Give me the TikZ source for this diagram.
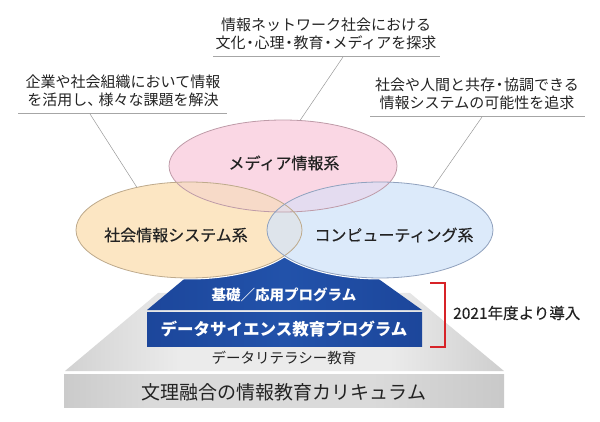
\documentclass[tikz,border=0pt]{standalone}
\usepackage{fontspec}
\setmainfont{Noto Sans CJK JP}
\newfontfamily\jpmed[FakeBold=0.35]{Noto Sans CJK JP}
\definecolor{pinkc}{RGB}{250,215,228}
\definecolor{orangec}{RGB}{252,230,195}
\definecolor{bluec}{RGB}{220,234,250}
\definecolor{poc}{RGB}{247,218,200}
\definecolor{pbc}{RGB}{228,220,240}
\definecolor{obc}{RGB}{222,228,235}
\definecolor{pobc}{RGB}{230,220,228}
\definecolor{pinks}{RGB}{190,155,168}
\definecolor{oranges}{RGB}{190,170,140}
\definecolor{blues}{RGB}{145,162,190}
\definecolor{navyE}{RGB}{12,36,100}
\definecolor{navyQ}{RGB}{27,68,152}
\definecolor{navyM}{RGB}{34,82,170}
\definecolor{txt}{RGB}{35,35,35}
\definecolor{redb}{RGB}{215,35,40}
\definecolor{g185}{RGB}{185,185,185}
\definecolor{g200}{RGB}{200,200,200}
\definecolor{g235}{RGB}{235,235,235}
\definecolor{g195}{RGB}{195,195,195}
\definecolor{g155}{RGB}{155,155,155}
\definecolor{g165}{RGB}{165,165,165}
\definecolor{g218}{RGB}{218,218,218}
\definecolor{g172}{RGB}{172,172,172}
\pgfdeclarehorizontalshading{trapShade}{100bp}{color(0bp)=(g185); color(20bp)=(g200); color(38bp)=(g235); color(62bp)=(g235); color(80bp)=(g195); color(100bp)=(g155)}
\pgfdeclarehorizontalshading{rectShade}{100bp}{color(0bp)=(g165); color(35bp)=(g218); color(60bp)=(g218); color(100bp)=(g172)}
\pgfdeclarehorizontalshading{navyShade}{100bp}{color(0bp)=(navyE); color(20bp)=(navyQ); color(50bp)=(navyM); color(80bp)=(navyQ); color(100bp)=(navyE)}
\newcommand\nkg{\kern-0.2em・\kern-0.2em}
\begin{document}
\begin{tikzpicture}[x=1pt,y=-1pt,
  ann/.style={text=txt, align=center, inner sep=0pt, font=\fontsize{15}{18}\selectfont},
  elab/.style={text=txt, inner sep=0pt, font=\jpmed\fontsize{16}{18}\selectfont},
  uline/.style={draw=gray!70, line width=0.9pt},
  leader/.style={draw=gray!80, line width=0.5pt},
  bluetext/.style={text=white, inner sep=0pt, font=\bfseries\fontsize{#1}{#1}\selectfont},
  graytext/.style={text=txt, inner sep=0pt, font=\fontsize{#1}{#1}\selectfont}]
\useasboundingbox (0,0) rectangle (600,422);

% ---- gray base
\shade[shading=trapShade]
  (65,371) -- (158,293) -- (410,293) -- (504,371) -- cycle;
\shade[shading=rectShade]
  (64,374) rectangle (504,407);

% ---- blue program block
\shade[shading=navyShade]
  (147,310) -- (219,250) -- (338,250) -- (422,310) -- cycle;
\shade[shading=navyShade]
  (147,312.5) rectangle (422,346);

% ---- ellipse halos over the blue block
\draw[white, line width=3pt] (189,230) ellipse [x radius=113pt, y radius=48pt];
\draw[white, line width=3pt] (380,230) ellipse [x radius=113pt, y radius=48pt];

% ---- ellipse fills
\fill[pinkc] (283,166) ellipse [x radius=114pt, y radius=46pt];
\fill[orangec] (189,230) ellipse [x radius=113pt, y radius=48pt];
\fill[bluec] (380,230) ellipse [x radius=113pt, y radius=48pt];
\begin{scope}
  \clip (283,166) ellipse [x radius=114pt, y radius=46pt];
  \fill[poc] (189,230) ellipse [x radius=113pt, y radius=48pt];
  \fill[pbc] (380,230) ellipse [x radius=113pt, y radius=48pt];
\end{scope}
\begin{scope}
  \clip (189,230) ellipse [x radius=113pt, y radius=48pt];
  \fill[obc] (380,230) ellipse [x radius=113pt, y radius=48pt];
  \clip (283,166) ellipse [x radius=114pt, y radius=46pt];
  \fill[pobc] (380,230) ellipse [x radius=113pt, y radius=48pt];
\end{scope}
\draw[pinks, line width=0.8pt] (283,166) ellipse [x radius=114pt, y radius=46pt];
\draw[oranges, line width=0.8pt] (189,230) ellipse [x radius=113pt, y radius=48pt];
\draw[blues, line width=0.8pt] (380,230) ellipse [x radius=113pt, y radius=48pt];

% ---- ellipse labels
\node[elab] (media) at (284,163) {メディア情報系};
\node[elab] (shakai) at (176,235) {社会情報システム系};
\node[elab] (comp) at (394,235) {コンピューティング系};

% ---- annotations
\node[ann] (tA) at (326,34) {情報ネットワーク社会における\\文化\nkg 心理\nkg 教育\nkg メディアを探求};
\node[ann] (tL) at (123,91) {企業や社会組織において情報\\を活用し、\kern-0.25em 様々な課題を解決};
\node[ann] (tR) at (477,94) {社会や人間と共存\nkg 協調できる\\情報システムの可能性を追求};

\coordinate (uA1) at (213,56); \coordinate (uA2) at (440,56);
\coordinate (uL1) at (18,113); \coordinate (uL2) at (227,113);
\coordinate (uR1) at (370,116); \coordinate (uR2) at (585,116);
\draw[uline] (uA1) -- (uA2);
\draw[uline] (uL1) -- (uL2);
\draw[uline] (uR1) -- (uR2);

\coordinate (lA) at (343,57); \coordinate (pinkTop) at (300,120.5);
\coordinate (lL) at (90,114); \coordinate (orangeTop) at (137,187.5);
\coordinate (lR) at (482,117); \coordinate (blueTop) at (433,187.5);
\draw[leader] (lA) -- (pinkTop);
\draw[leader] (lL) -- (orangeTop);
\draw[leader] (lR) -- (blueTop);

% ---- program texts
\node[bluetext=14.5] (kiso) at (284,295) {基礎／応用プログラム};
\node[bluetext=16.5] (ds) at (284,329) {データサイエンス教育プログラム};
\node[graytext=14.5] (lit) at (284,358) {データリテラシー教育};
\node[graytext=19] (bunri) at (284,392) {文理融合の情報教育カリキュラム};

% ---- bracket
\coordinate (bT) at (430,283); \coordinate (bTc) at (445,283);
\coordinate (bBc) at (445,347); \coordinate (bB) at (430,347);
\draw[redb, line width=1.3pt] (bT) -- (bTc) -- (bBc) -- (bB);
\node[graytext=15.5, font=\jpmed\fontsize{15.5}{16}\selectfont, anchor=west] (intro) at (453,313) {2021年度より導入};
\end{tikzpicture}
\end{document}
